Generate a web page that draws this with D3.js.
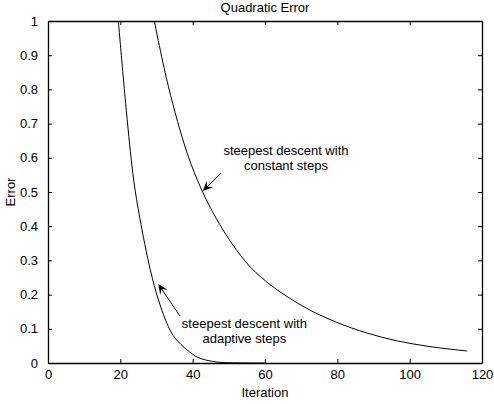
<!DOCTYPE html>
<html>
<head>
<meta charset="utf-8">
<script src="https://cdn.jsdelivr.net/npm/d3@7"></script>
<style>
  body { margin: 0; background: #fff; }
  svg { display: block; font-family: "Liberation Sans", Arial, Helvetica, sans-serif; }
  .axis text { font-size: 13px; fill: #000; }
  .axis path, .axis line { stroke: #000; }
  .axis path { stroke-width: 1.3; }
</style>
</head>
<body>
<svg id="chart"></svg>
<script>
// iteration / error
const constIter = [29.4, 33.3, 38.5, 42.5, 46.5, 50.8, 56, 62.3, 71.5, 79.8, 88.1, 96.4, 105.6, 115.9];
const constErr  = [1.0, 0.808, 0.613, 0.506, 0.423, 0.35, 0.28, 0.222, 0.160, 0.119, 0.088, 0.065, 0.048, 0.035];

const adaptIter = [19.45, 21.9, 23.7, 25.4, 28.3, 30.55, 33.3, 35.2, 38.5, 41.5, 46.6, 53, 60];
const adaptErr  = [1.0, 0.711, 0.535, 0.423, 0.272, 0.184, 0.106, 0.072, 0.038, 0.016, 0.003, 0.0004, 0];

const xTicks = [0, 20, 40, 60, 80, 100, 120];
const yTicks = [0, 0.1, 0.2, 0.3, 0.4, 0.5, 0.6, 0.7, 0.8, 0.9, 1];
const yTickLabels = ["0", "0.1", "0.2", "0.3", "0.4", "0.5", "0.6", "0.7", "0.8", "0.9", "1"];

const title = "Quadratic Error";
const xTitle = "Iteration";
const yTitle = "Error";

// annotations: text lines + arrow (tail -> tip), in data units
const notes = [
  { lines: ["steepest descent with", "constant steps"], x: 65.8, y: [0.608, 0.564],
    from: [47.8, 0.555], to: [42.8, 0.503] },
  { lines: ["steepest descent with", "adaptive steps"], x: 54.3, y: [0.102, 0.058],
    from: [36.5, 0.137], to: [30.5, 0.231] }
];

const width = 494, height = 404;
const margin = { top: 21, right: 12, bottom: 41, left: 48 };

const svg = d3.select("#chart").attr("width", width).attr("height", height);

const x = d3.scaleLinear().domain([0, 120]).range([margin.left, width - margin.right]);
const y = d3.scaleLinear().domain([0, 1]).range([height - margin.bottom, margin.top]);

// box + ticks on every side, ticks pointing inward
svg.append("g").attr("class", "axis")
  .attr("transform", `translate(0,${height - margin.bottom})`)
  .call(d3.axisBottom(x).tickValues(xTicks).tickSizeInner(-4).tickSizeOuter(0).tickPadding(7));
svg.append("g").attr("class", "axis")
  .attr("transform", `translate(0,${margin.top})`)
  .call(d3.axisTop(x).tickValues(xTicks).tickSizeInner(-4).tickSizeOuter(0).tickFormat(""));
svg.append("g").attr("class", "axis")
  .attr("transform", `translate(${margin.left},0)`)
  .call(d3.axisLeft(y).tickValues(yTicks).tickSizeInner(-4).tickSizeOuter(0).tickPadding(10)
    .tickFormat((d, i) => yTickLabels[i]));
svg.append("g").attr("class", "axis")
  .attr("transform", `translate(${width - margin.right},0)`)
  .call(d3.axisRight(y).tickValues(yTicks).tickSizeInner(-4).tickSizeOuter(0).tickFormat(""));

svg.selectAll(".axis text").attr("font-family", null).attr("font-size", null);

// titles
svg.append("text")
  .attr("x", (x(0) + x(120)) / 2).attr("y", 12)
  .attr("text-anchor", "middle").attr("font-size", 13)
  .text(title);
svg.append("text")
  .attr("x", (x(0) + x(120)) / 2).attr("y", 397)
  .attr("text-anchor", "middle").attr("font-size", 13)
  .text(xTitle);
svg.append("text")
  .attr("transform", `translate(15,${(y(0) + y(1)) / 2}) rotate(-90)`)
  .attr("text-anchor", "middle").attr("font-size", 13)
  .text(yTitle);

// curves
const line = d3.line()
  .x(d => x(d[0]))
  .y(d => y(d[1]))
  .curve(d3.curveCatmullRom.alpha(0.5));

const series = [
  d3.zip(constIter, constErr),
  d3.zip(adaptIter, adaptErr)
];

svg.append("g")
  .selectAll("path")
  .data(series)
  .join("path")
  .attr("d", line)
  .attr("fill", "none")
  .attr("stroke", "#000")
  .attr("stroke-width", 1);

// annotations
const ann = svg.append("g");
notes.forEach(n => {
  n.lines.forEach((t, i) => {
    ann.append("text")
      .attr("x", x(n.x)).attr("y", y(n.y[i]))
      .attr("text-anchor", "middle").attr("font-size", 13)
      .text(t);
  });
  const x1 = x(n.from[0]), y1 = y(n.from[1]);
  const x2 = x(n.to[0]), y2 = y(n.to[1]);
  const a = Math.atan2(y2 - y1, x2 - x1);
  const L = 10, W = 4.5, N = 6;
  const ux = Math.cos(a), uy = Math.sin(a);
  const px = -uy, py = ux;
  const bx = x2 - ux * L, by = y2 - uy * L;
  const nx = x2 - ux * N, ny = y2 - uy * N;
  ann.append("line")
    .attr("x1", x1).attr("y1", y1).attr("x2", nx).attr("y2", ny)
    .attr("stroke", "#000").attr("stroke-width", 1);
  ann.append("path")
    .attr("d", `M${x2},${y2}L${bx + px * W},${by + py * W}L${nx},${ny}L${bx - px * W},${by - py * W}Z`)
    .attr("fill", "#000");
});
</script>
</body>
</html>
